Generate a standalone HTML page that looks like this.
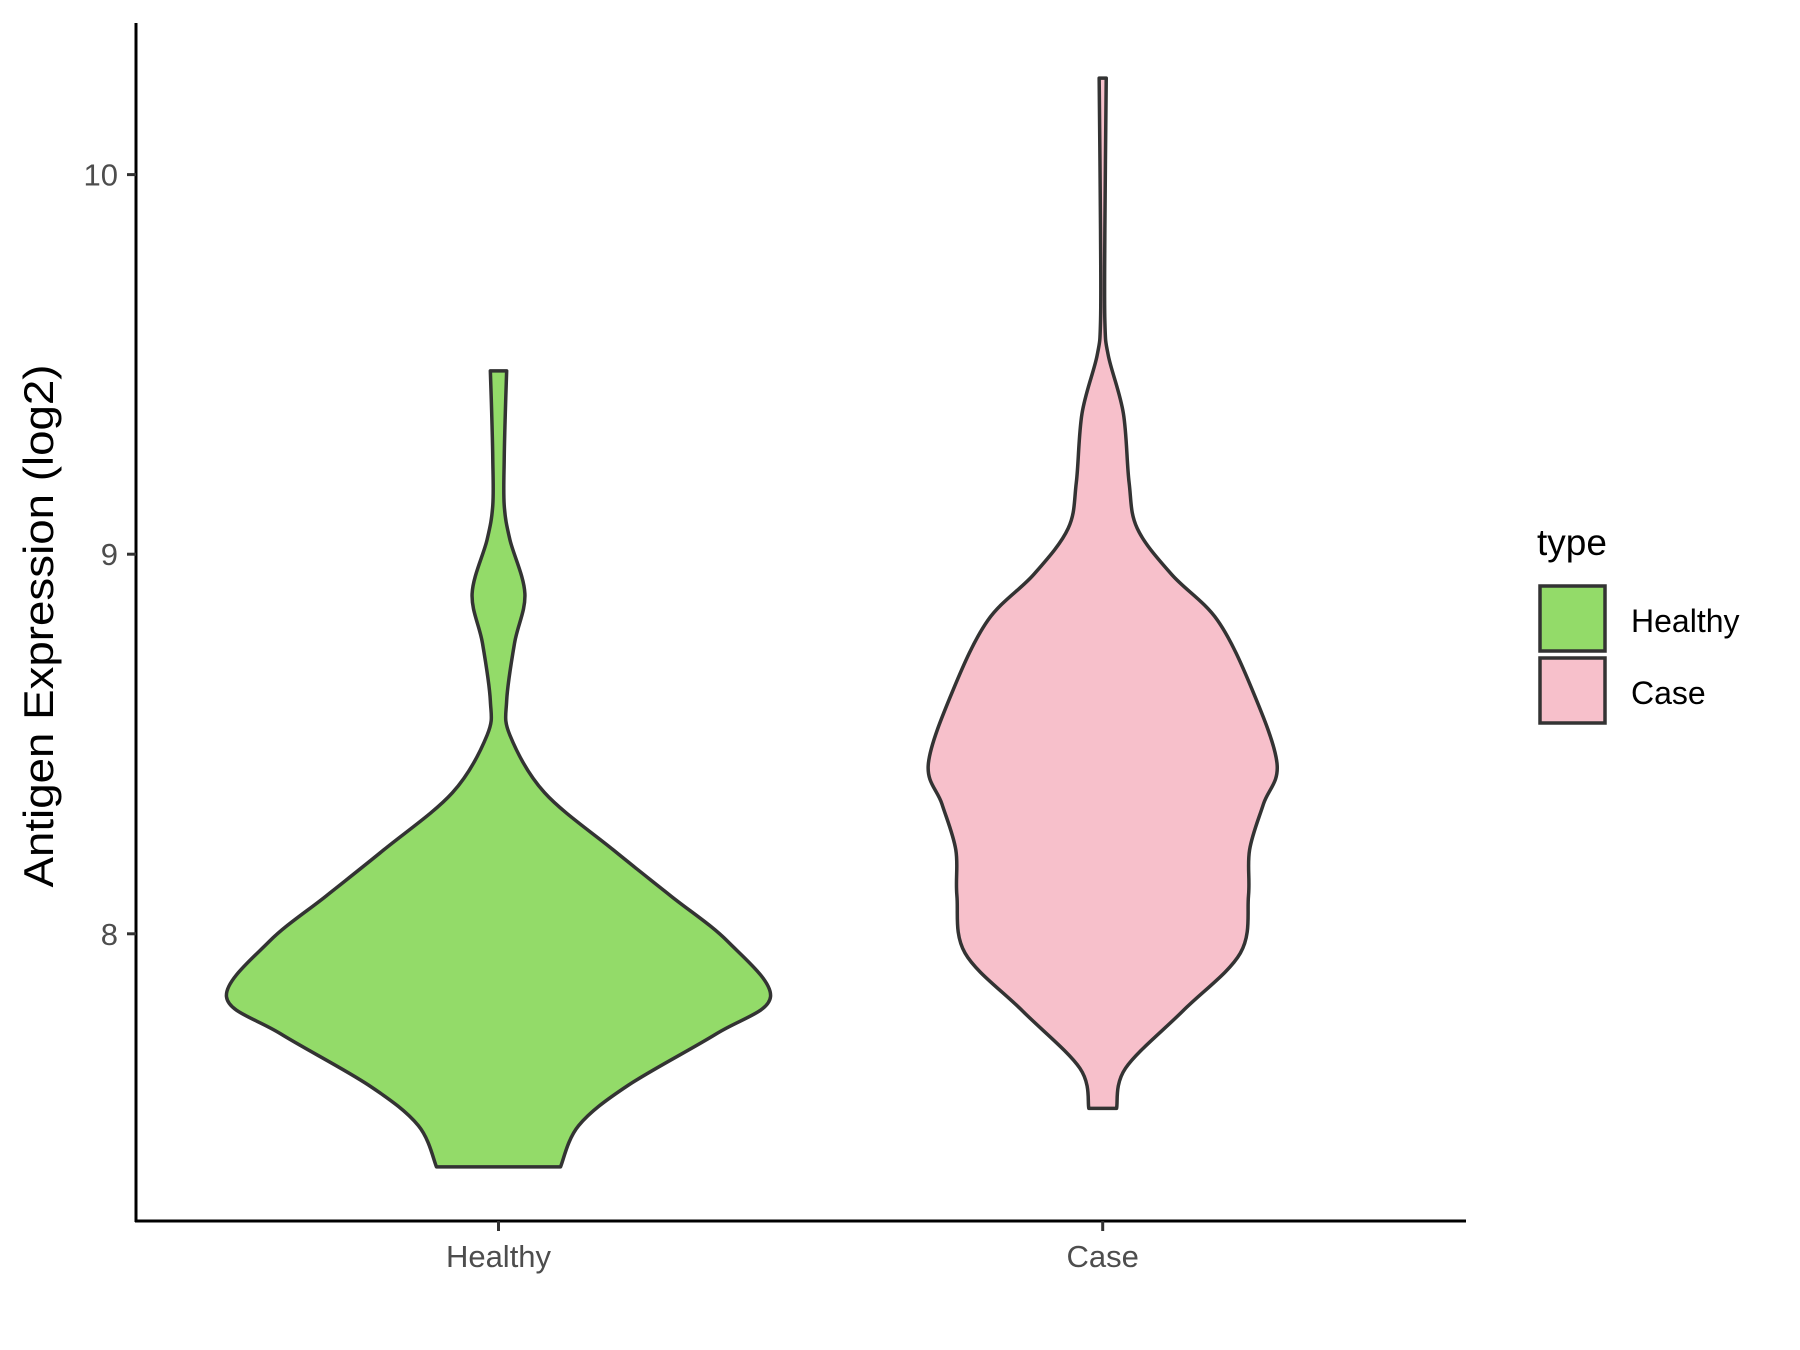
<!DOCTYPE html>
<html><head><meta charset="utf-8"><style>body{margin:0;background:#fff}svg{display:block;font-family:"Liberation Sans",sans-serif}</style></head>
<body>
<svg id="chart" width="1800" height="1350" viewBox="0 0 1800 1350">
<g id="axes"></g>
<g id="violins"></g>
<text x="53" y="626" transform="rotate(-90 53 626)" text-anchor="middle" font-size="42" textLength="523" lengthAdjust="spacingAndGlyphs" fill="#000">Antigen Expression (log2)</text>
<g>
<text x="1537" y="555" font-size="37" fill="#000">type</text>
<rect x="1540" y="586" width="65" height="65" fill="#93DB69" stroke="#333" stroke-width="3.5"/>
<rect x="1540" y="658" width="65" height="65" fill="#F7C0CB" stroke="#333" stroke-width="3.5"/>
<text x="1631" y="632" font-size="32" fill="#000">Healthy</text>
<text x="1631" y="704" font-size="32" fill="#000">Case</text>
</g>
</svg>
<script>
const categories = ["Healthy", "Case"];
const yTicks = [8, 9, 10];
const healthyValues = [9.483,9.371,9.250,9.129,9.038,8.896,8.766,8.614,8.523,8.372,8.221,8.100,7.979,7.834,7.737,7.601,7.495,7.386];
const healthyDensity = [.030,.025,.021,.021,.042,.097,.059,.030,.042,.169,.422,.633,.844,1.0,.802,.477,.295,.228];
const caseValues = [10.254,9.855,9.613,9.522,9.371,9.189,9.068,8.947,8.826,8.644,8.448,8.342,8.221,8.100,7.949,7.797,7.646,7.540];
const caseDensity = [.013,.008,.008,.021,.076,.097,.127,.253,.422,.549,.641,.591,.540,.536,.506,.295,.084,.051];
const fills = ["#93DB69", "#F7C0CB"];

const NS = "http://www.w3.org/2000/svg";
const yScale = v => 174.6 + (10 - v) * 379.6;
const xScale = i => 498.5 + i * 604.2;
const wScale = d => d * 272;

function mk(tag, attrs, parent) {
  const e = document.createElementNS(NS, tag);
  for (const k in attrs) e.setAttribute(k, attrs[k]);
  parent.appendChild(e);
  return e;
}
const axes = document.getElementById('axes');
let l = mk('line', {x1:136,y1:23,x2:136,y2:1222,stroke:'#000','stroke-width':3}, axes);


l = mk('line', {x1:135,y1:1221,x2:1466,y2:1221,stroke:'#000','stroke-width':3}, axes);


yTicks.forEach(v => {
  const y = yScale(v);
  const t = mk('line', {x1:127,y1:y,x2:136,y2:y,stroke:'#333','stroke-width':3}, axes);
  
  
  const tx = mk('text', {x:118,y:y+11,'text-anchor':'end','font-size':31,fill:'#4d4d4d'}, axes);
  tx.textContent = v;
  
  
});
categories.forEach((c, i) => {
  const x = xScale(i);
  const t = mk('line', {x1:x,y1:1221,x2:x,y2:1231,stroke:'#333','stroke-width':3}, axes);
  
  
  const tx = mk('text', {x:x,y:1267,'text-anchor':'middle','font-size':31,fill:'#4d4d4d'}, axes);
  tx.textContent = c;
  
  
});

function smooth(pts) {
  let d = `M${pts[0][0]},${pts[0][1]}`;
  for (let i = 0; i < pts.length - 1; i++) {
    const p0 = pts[Math.max(i-1,0)], p1 = pts[i], p2 = pts[i+1], p3 = pts[Math.min(i+2,pts.length-1)];
    const c1 = [p1[0]+(p2[0]-p0[0])/6, p1[1]+(p2[1]-p0[1])/6];
    const c2 = [p2[0]-(p3[0]-p1[0])/6, p2[1]-(p3[1]-p1[1])/6];
    d += ` C${c1[0]},${c1[1]} ${c2[0]},${c2[1]} ${p2[0]},${p2[1]}`;
  }
  return d;
}
const vg = document.getElementById('violins');
[[healthyValues, healthyDensity], [caseValues, caseDensity]].forEach((s, i) => {
  const cx = xScale(i);
  const right = s[0].map((v, j) => [cx + wScale(s[1][j]), yScale(v)]);
  const left = s[0].map((v, j) => [cx - wScale(s[1][j]), yScale(v)]).reverse();
  let d = smooth(right);
  d += ` L${left[0][0]},${left[0][1]}` + smooth(left).replace(/^M[^C]*/, ' ') + ' Z';
  const p = mk('path', {d:d, fill:fills[i], stroke:'#333', 'stroke-width':3.5, 'stroke-linejoin':'round'}, vg);
  
  
});
</script>
</body></html>
